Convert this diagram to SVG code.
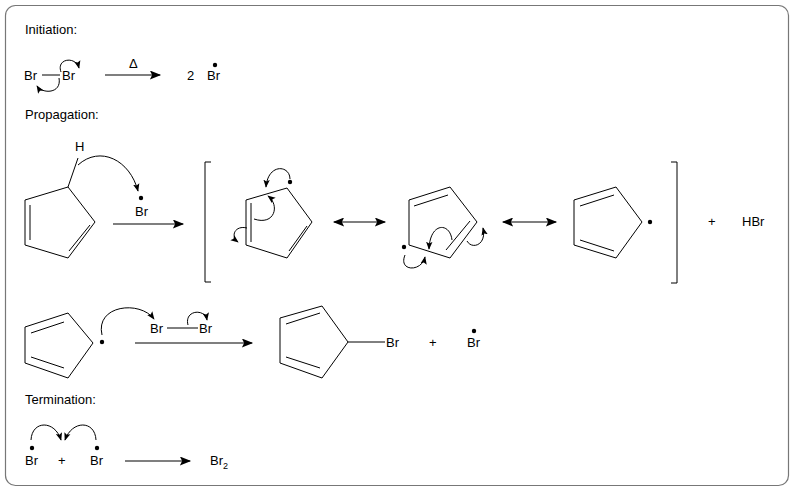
<svg xmlns="http://www.w3.org/2000/svg" width="796" height="491" viewBox="0 0 796 491">
<defs>
<marker id="ah" viewBox="0 0 10 8" refX="9" refY="4" markerWidth="14" markerHeight="9" markerUnits="userSpaceOnUse" orient="auto"><path d="M0,0 L10,4 L0,8 L2,4 Z" fill="#000"/></marker>
<marker id="ahs" viewBox="0 0 10 8" refX="9" refY="4" markerWidth="8" markerHeight="7" markerUnits="userSpaceOnUse" orient="auto"><path d="M0,0 L10,4 L0,8 L2,4 Z" fill="#000"/></marker>
<marker id="ahr" viewBox="0 0 10 8" refX="1" refY="4" markerWidth="14" markerHeight="9" markerUnits="userSpaceOnUse" orient="auto"><path d="M10,0 L0,4 L10,8 L8,4 Z" fill="#000"/></marker>
</defs>
<style>
text{font-family:"Liberation Sans",Arial,sans-serif;font-size:13px;fill:#000}
.b{stroke:#000;stroke-width:1;fill:none}
.c{stroke:#000;stroke-width:1;fill:none;marker-end:url(#ahs)}
.r{stroke:#000;stroke-width:1.2;fill:none;marker-end:url(#ah)}
</style>
<rect x="5.5" y="5.5" width="783" height="480" rx="10" fill="#fff" stroke="#777" stroke-width="1.2"/>
<g id="labels">
<text x="25" y="34">Initiation:</text>
<text x="25" y="119">Propagation:</text>
<text x="25" y="404">Termination:</text>
</g>
<g id="initiation">
<text x="24" y="80">Br</text><line class="b" x1="42" y1="75" x2="60" y2="75"/><text x="62" y="80">Br</text>
<text x="129" y="68">Δ</text>
<text x="187" y="80">2</text><text x="207" y="80">Br</text><circle cx="215" cy="65" r="2.2"/>
</g>
<g id="propagation1">
<polygon class="b" points="68,187 25,200 25,245 68,258 95,222"/>
<line class="b" x1="30" y1="205" x2="30" y2="240"/><line class="b" x1="69" y1="251" x2="90" y2="225"/>
<line class="b" x1="68" y1="187" x2="78" y2="158"/><text x="75" y="151">H</text>
<text x="135" y="216">Br</text><circle cx="141" cy="198" r="2.2"/>
<path class="b" d="M211,162 H205 V282 H211"/>
<polygon class="b" points="287,188 246,200 246,245 287,258 312,222"/>
<line class="b" x1="251" y1="203" x2="251" y2="242"/><line class="b" x1="289" y1="251" x2="307" y2="226"/>
<circle cx="290" cy="182" r="2.2"/>
<polygon class="b" points="409,200 450,187 477,222 450,258 409,245"/>
<line class="b" x1="414" y1="206" x2="448" y2="195"/><line class="b" x1="446" y1="250" x2="470" y2="221"/>
<circle cx="404" cy="247" r="2.2"/>
<polygon class="b" points="574,200 616,187 642,222 616,258 574,245"/>
<line class="b" x1="580" y1="206" x2="614" y2="195"/><line class="b" x1="580" y1="240" x2="614" y2="251"/>
<circle cx="650" cy="222" r="2.2"/>
<path class="b" d="M671,162 H677 V283 H671"/>
<text x="708" y="226">+</text><text x="742" y="226">HBr</text>
</g>
<g id="propagation2">
<polygon class="b" points="25,327 68,313 93,343 68,378 25,363"/>
<line class="b" x1="31" y1="333" x2="64" y2="322"/><line class="b" x1="31" y1="357" x2="64" y2="368"/>
<circle cx="102" cy="342" r="2.2"/>
<text x="150" y="333">Br</text><line class="b" x1="167" y1="328" x2="198" y2="328"/><text x="199" y="333">Br</text>
<polygon class="b" points="280,318 322,306 348,342 322,378 280,363"/>
<line class="b" x1="286" y1="324" x2="320" y2="313"/><line class="b" x1="286" y1="357" x2="320" y2="368"/>
<line class="b" x1="348" y1="342" x2="385" y2="342"/><text x="386" y="347">Br</text>
<text x="429" y="347">+</text><text x="467" y="347">Br</text><circle cx="474" cy="331" r="2.2"/>
</g>
<g id="termination">
<text x="25" y="465">Br</text><circle cx="32" cy="448" r="2.2"/>
<text x="58" y="465">+</text>
<text x="90" y="465">Br</text><circle cx="97" cy="448" r="2.2"/>
<text x="210" y="465">Br<tspan font-size="9" dy="4">2</tspan></text>
</g>
<g id="connectors">
<line class="r" x1="105" y1="75" x2="160" y2="75"/>
<path class="c" d="M61,72 C56,58 76,56 79,68"/>
<path class="c" d="M59,78 C62,94 42,94 37,86"/>
<path class="c" d="M78,165 C100,145 130,160 138,191"/>
<line class="r" x1="113" y1="224" x2="183" y2="224"/>
<path class="c" d="M290,179 C290,165 268,163 266,187"/>
<path class="c" d="M254,219 C275,226 280,205 268,196"/>
<path class="c" d="M247,228 C235,225 230,236 238,242"/>
<line class="r" x1="334" y1="222" x2="385" y2="222" marker-start="url(#ahr)"/>
<path class="c" d="M405,255 C398,272 422,272 425,257"/>
<path class="c" d="M452,240 C450,222 430,222 429,249"/>
<path class="c" d="M467,241 C472,250 487,245 483,228"/>
<line class="r" x1="503" y1="222" x2="556" y2="222" marker-start="url(#ahr)"/>
<path class="c" d="M102,335 C95,305 140,300 154,319"/>
<path class="c" d="M188,325 C184,310 205,308 207,320"/>
<line class="r" x1="135" y1="343" x2="252" y2="343"/>
<path class="c" d="M31,440 C32,420 55,420 61,440"/>
<path class="c" d="M96,440 C95,420 72,420 65,440"/>
<line class="r" x1="125" y1="461" x2="190" y2="461"/>
</g>
</svg>
